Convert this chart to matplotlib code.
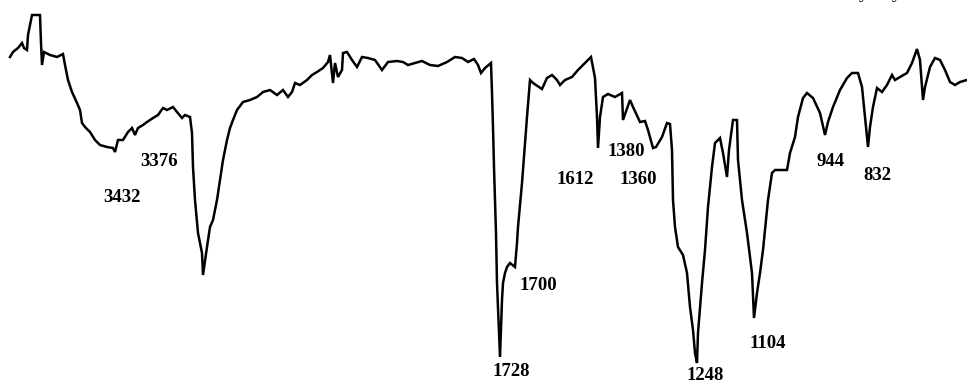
import numpy as np
import matplotlib
matplotlib.use("Agg")
import matplotlib.pyplot as plt

# IR spectrum: wavenumber (cm-1) and transmittance (%)
wavenumber = [
    3900, 3885, 3860, 3840, 3830, 3815, 3810, 3790, 3750, 3745, 3740, 3730, 3700,
    3665, 3635, 3625, 3610, 3590, 3565, 3550, 3540, 3525, 3500, 3475, 3450, 3415,
    3385, 3375, 3360, 3335, 3310, 3290, 3275, 3260, 3235, 3215, 3185, 3160, 3135,
    3115, 3085, 3065, 3040, 3025, 3000, 2990, 2985, 2975, 2960, 2940, 2935, 2915,
    2900, 2885, 2865, 2850, 2835, 2815, 2800, 2785, 2765, 2735, 2700, 2665, 2635,
    2600, 2565, 2535, 2510, 2490, 2475, 2450, 2415, 2390, 2365, 2335, 2310, 2300,
    2285, 2275, 2260, 2240, 2235, 2215, 2190, 2165, 2140, 2110, 2075, 2040, 2010,
    1982.5, 1967.5, 1955, 1937.5, 1920, 1900, 1880, 1857.5, 1837.5, 1820, 1805,
    1790, 1780, 1772.5, 1762.5, 1747.5, 1745, 1742.5, 1740, 1735, 1732.5, 1725,
    1720, 1717.5, 1712.5, 1707.5, 1700, 1687.5, 1682.5, 1680, 1670, 1662.5, 1657.5,
    1650, 1642.5, 1620, 1607.5, 1595, 1582.5, 1575, 1562.5, 1545, 1530, 1512.5,
    1497.5, 1487.5, 1482.5, 1480, 1475, 1467.5, 1455, 1437.5, 1420, 1417.5, 1400,
    1392.5, 1375, 1362.5, 1355, 1342.5, 1335, 1320, 1307.5, 1300, 1295, 1292.5,
    1287.5, 1280, 1267.5, 1257.5, 1250, 1242.5, 1237.5, 1232.5, 1230, 1220, 1212.5,
    1205, 1195, 1187.5, 1175, 1167.5, 1157.5, 1152.5, 1142.5, 1132.5, 1130, 1120,
    1107.5, 1095, 1090, 1082.5, 1075, 1067.5, 1055, 1045, 1037.5, 1007.5, 1000,
    987.5, 980, 967.5, 957.5, 942.5, 925, 912.5, 905, 892.5, 875, 857.5, 845, 830,
    820, 812.5, 805, 800, 792.5, 782.5, 770, 757.5, 745, 737.5, 725, 707.5, 695,
    682.5, 675, 667.5, 662.5, 650, 637.5, 625, 612.5, 600, 587.5, 575, 557.5,
]
transmittance = [
    85.75, 87, 88, 89.25, 88, 87.5, 91.25, 96.25, 96.25, 89.25, 83.75, 87, 86.25,
    85.75, 86.5, 83.75, 80, 77, 74.25, 72.5, 69.25, 68.25, 67, 65, 63.75, 63.25,
    63, 62, 65, 65, 67, 68, 66.25, 68, 68.75, 69.5, 70.5, 71.25, 73,
    72.5, 73.25, 72, 70.5, 71.25, 70.75, 66.75, 58.25, 50, 41.75, 36.75, 31.25, 38.25,
    43.25, 45, 50, 55, 60, 65, 68, 70, 72.5, 74.5, 75, 75.75, 77,
    77.5, 76.25, 77.5, 75.75, 77, 79.25, 78.75, 80, 81.25, 82, 83, 84.5, 86.25,
    79.25, 84.25, 80.75, 82.5, 86.75, 87, 85, 83.25, 85.75, 85.5, 85, 82.5, 84.5,
    84.75, 84.5, 83.75, 84.25, 84.75, 83.75, 83.5, 84.5, 85.75, 85.5, 84.5,
    85.25, 83.75, 81.75, 83, 84.25, 76.75, 68.25, 58.25, 41.75, 29.25, 10.75,
    25, 29.25, 31.75, 33.25, 34.25, 33.25, 39.25, 43.25, 54.25, 64.25, 70.75,
    80, 79.25, 77.75, 80.5, 81.25, 80, 78.75, 80, 80.75, 82.5, 84.25,
    85.75, 80.5, 70.75, 63, 70.75, 75.75, 76.5, 75.75, 76.75, 70, 75,
    73.25, 69.5, 69.75, 67.5, 63, 63.25, 65.75, 69.25, 69, 62.5, 50,
    43.25, 38.25, 36.25, 31.75, 23.25, 17.5, 11.75, 9.25, 16.75, 29.25, 37.5,
    48.25, 58.25, 64.25, 65.5, 61.75, 55.75, 62.5, 70, 70, 60, 50,
    41.75, 31.75, 20.5, 26.75, 31.75, 37.5, 50, 56.75, 57.5, 57.5, 61.75,
    65.75, 70.75, 75.5, 76.75, 75.5, 71.75, 66.25, 69.5, 73.25, 77.5, 80.5, 81.75, 81.75,
    78.25, 70.75, 63.25, 68.25, 73.25, 78, 77, 78.75, 81.25, 80, 80.75, 81.75, 84.25,
    87.75, 85, 75, 78.25, 83.25, 85.5, 85, 82.5, 79.5, 78.75, 79.5, 80,
]

# Peak annotations
peak_labels = ["3376", "3432", "1728", "1700", "1612", "1380", "1360",
               "1248", "1104", "944", "832"]
label_x = [3155, 3340, 1697.5, 1630, 1537.5, 1410, 1380, 1212.5, 1055, 897.5, 782.5]
label_y = [59.75, 50.75, 7, 28.75, 55.25, 62, 55.25, 6, 14, 59.75, 56]


def _fwd(w):
    w = np.asarray(w, dtype=float)
    return np.where(w >= 2000, 2000 + (w - 2000) / 2.0, w)


def _inv(u):
    u = np.asarray(u, dtype=float)
    return np.where(u >= 2000, 2000 + (u - 2000) * 2.0, u)


fig = plt.figure(figsize=(9.67, 3.85), dpi=100)
ax = fig.add_axes([0, 0, 1, 1])
ax.set_xscale("function", functions=(_fwd, _inv))
ax.plot(wavenumber, transmittance, color="black", lw=1.8,
        solid_joinstyle="miter")
ax.set_xlim(3950, 557.5)
ax.set_ylim(3.75, 100)
ax.axis("off")

serif = ["Liberation Serif", "DejaVu Serif"]
for s, x, y in zip(peak_labels, label_x, label_y):
    ax.text(x, y, s, ha="center", va="center", fontsize=13.5,
            fontweight="bold", family=serif, color="black")

# descenders of a caption line sitting just above the frame
for fx in (864 / 967, 897 / 967):
    fig.text(fx, 1 + 1.5 / 385, "y", ha="center", va="baseline", fontsize=14,
             family=serif, color="black")

fig.savefig("out.png", dpi=100, facecolor="white")
